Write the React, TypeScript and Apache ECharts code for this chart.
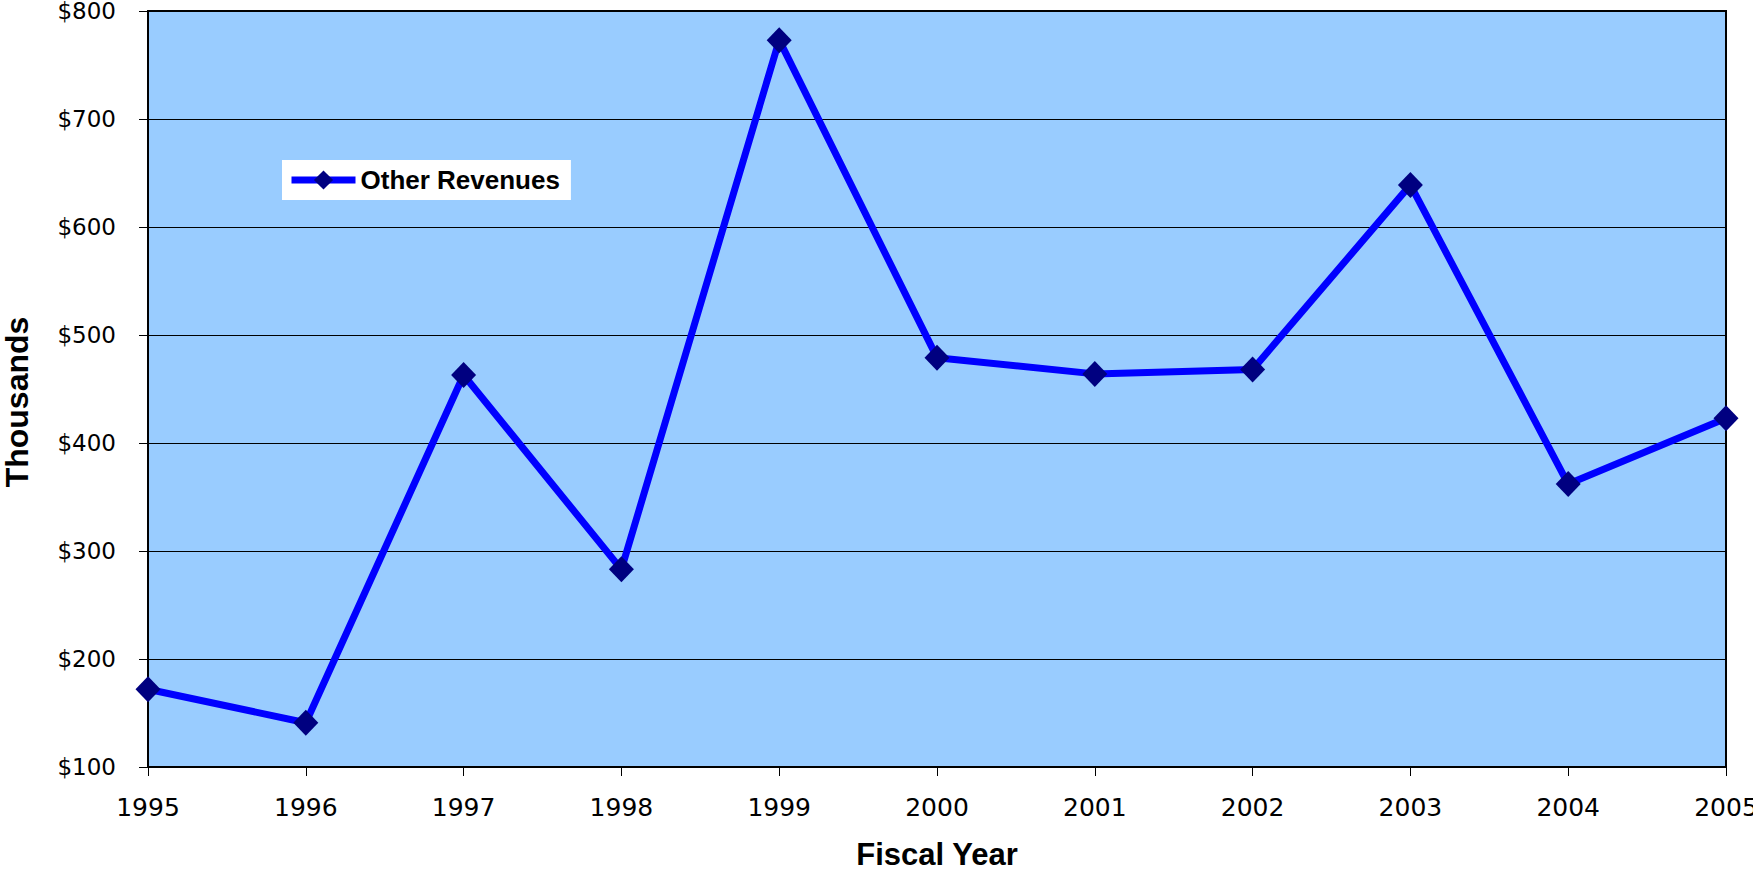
import React, { useEffect, useRef } from "react";
import * as echarts from "echarts";

const years = ["1995", "1996", "1997", "1998", "1999", "2000", "2001", "2002", "2003", "2004", "2005"];
const otherRevenues = [172, 141, 463, 283, 773, 479, 464, 468, 639, 362, 423];
const seriesName = "Other Revenues";
const yTitle = "Thousands";
const xTitle = "Fiscal Year";
const yMin = 100;
const yMax = 800;
const yStep = 100;

export default function App() {
  const ref = useRef<HTMLDivElement>(null);
  useEffect(() => {
    if (!ref.current) return;
    const chart = echarts.init(ref.current, null, { renderer: "svg" });
    chart.setOption({
      animation: false,
      backgroundColor: "#ffffff",
      grid: {
        left: 148,
        right: 27,
        top: 11,
        bottom: 104,
        containLabel: false,
        outerBoundsMode: "none",
        show: true,
        backgroundColor: "#99CCFF",
        borderColor: "#000000",
        borderWidth: 2,
      },
      graphic: [
        {
          type: "text",
          x: 17,
          y: 402,
          rotation: Math.PI / 2,
          style: {
            text: yTitle,
            fontFamily: "Liberation Sans",
            fontWeight: "bold",
            fontSize: 32,
            lineHeight: 26,
            fill: "#000000",
            align: "center",
            verticalAlign: "middle",
          },
        },
      ],
      legend: {
        left: 282,
        top: 160,
        backgroundColor: "#ffffff",
        padding: [7, 11, 7, 6],
        itemWidth: 64,
        itemHeight: 24,
        itemGap: 0,
        borderRadius: 0,
        lineStyle: { width: 7 },
        textStyle: {
          fontFamily: "Liberation Sans",
          fontWeight: "bold",
          fontSize: 26,
          color: "#000000",
        },
        data: [seriesName],
      },
      xAxis: {
        type: "category",
        data: years,
        boundaryGap: false,
        name: xTitle,
        nameLocation: "middle",
        nameGap: 73,
        nameTextStyle: {
          fontFamily: "Liberation Sans",
          fontWeight: "bold",
          fontSize: 31,
          lineHeight: 28,
          color: "#000000",
        },
        axisLine: { show: true, lineStyle: { color: "#000000", width: 2 } },
        axisTick: { show: true, length: 9, lineStyle: { color: "#000000", width: 1 } },
        axisLabel: {
          fontFamily: "DejaVu Sans",
          fontSize: 25,
          color: "#000000",
          margin: 28,
        },
        splitLine: { show: false },
      },
      yAxis: {
        type: "value",
        min: yMin,
        max: yMax,
        interval: yStep,
        axisLine: { show: true, lineStyle: { color: "#000000", width: 2 } },
        axisTick: { show: true, length: 9, lineStyle: { color: "#000000", width: 1 } },
        axisLabel: {
          fontFamily: "DejaVu Sans",
          fontSize: 23,
          lineHeight: 20,
          color: "#000000",
          margin: 32,
          formatter: (v: number) => "$" + v,
        },
        splitLine: { show: true, lineStyle: { color: "#000000", width: 1 } },
      },
      series: [
        {
          name: seriesName,
          type: "line",
          data: otherRevenues,
          symbol: "diamond",
          symbolSize: [25, 26],
          showAllSymbol: true,
          lineStyle: { color: "#0000FF", width: 7 },
          itemStyle: { color: "#000080", borderWidth: 0 },
          emphasis: { disabled: true },
        },
      ],
    });
    return () => chart.dispose();
  }, []);
  return (
    <div
      ref={ref}
      style={{ position: "fixed", left: 0, top: 0, width: 1753, height: 871 }}
    />
  );
}
